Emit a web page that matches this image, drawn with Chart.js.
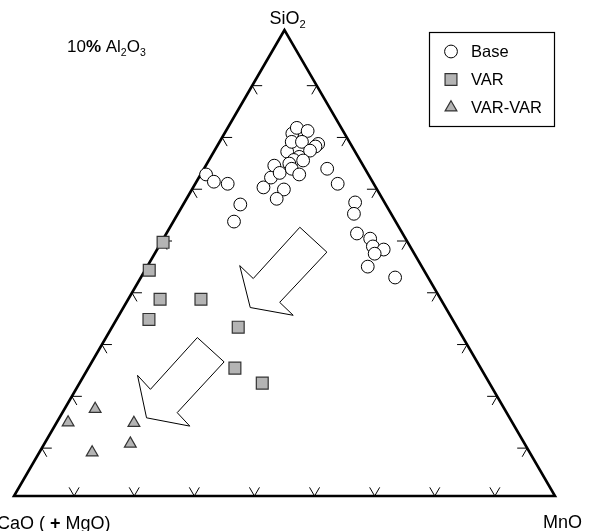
<!DOCTYPE html>
<html>
<head>
<meta charset="utf-8">
<script src="https://cdn.jsdelivr.net/npm/chart.js@4.4.1/dist/chart.umd.min.js"></script>
<style>
  html, body { margin: 0; padding: 0; background: #fff; }
</style>
</head>
<body>
<canvas id="ternary" width="595" height="531"></canvas>
<script>
// compositions in wt% on a 90 % basis (10 % Al2O3 fixed)
const TOTAL = 90;
const tickValues = [10, 20, 30, 40, 50, 60, 70, 80];

const baseSiO2 = [62.1, 60.7, 60.3, 56.3, 53.0, 59.6, 61.5, 63.8, 62.4, 59.2, 57.4, 66.5, 70.0, 71.1, 70.5, 68.4, 68.4, 68.0, 67.5, 66.7, 65.5, 64.9, 64.8, 64.2, 63.2, 62.1, 63.2, 60.3, 56.7, 54.5, 50.7, 49.7, 48.2, 47.6, 46.8, 44.3, 42.2];
const baseMnO  = [0.9, 2.9, 5.4, 9.5, 10.1, 11.7, 12.0, 11.4, 13.0, 15.3, 15.0, 12.2, 11.3, 11.5, 13.6, 12.0, 13.7, 16.6, 16.4, 15.9, 14.7, 14.1, 15.7, 13.7, 14.6, 16.4, 20.5, 23.7, 28.4, 29.3, 31.7, 34.4, 35.6, 37.7, 36.6, 36.7, 42.3];
const baseCaO  = [27.0, 26.4, 24.3, 24.2, 26.9, 18.7, 16.5, 14.8, 14.6, 15.5, 17.6, 11.3, 8.7, 7.4, 5.9, 9.6, 7.9, 5.4, 6.1, 7.4, 9.8, 11.0, 9.5, 12.1, 12.2, 11.5, 6.3, 6.0, 4.9, 6.2, 7.6, 5.9, 6.2, 4.7, 6.6, 9.0, 5.5];

const varSiO2 = [49.0, 43.6, 38.0, 38.0, 34.1, 32.6, 24.7, 21.8];
const varMnO  = [0.3, 0.7, 5.3, 12.1, 5.4, 21.0, 24.4, 30.4];
const varCaO  = [40.7, 45.7, 46.7, 39.9, 50.5, 36.4, 40.9, 37.8];

const varvarSiO2 = [16.8, 14.2, 14.1, 10.1, 8.4];
const varvarMnO  = [5.1, 1.9, 12.9, 14.3, 8.8];
const varvarCaO  = [68.1, 73.9, 63.0, 65.6, 72.8];

// hollow trend arrows, corners as (SiO2, MnO), CaO is the rest
const arrow1SiO2 = [51.9, 47.1, 37.4, 34.9, 36.4, 44.5, 42.0];
const arrow1MnO  = [21.6, 28.5, 25.5, 29.0, 21.1, 15.3, 18.8];
const arrow2SiO2 = [30.6, 25.9, 16.1, 13.5, 15.1, 23.3, 20.6];
const arrow2MnO  = [15.2, 22.0, 19.1, 22.5, 14.5, 8.9, 12.4];

const FONT = "'Liberation Sans', Arial, sans-serif";
const GREY = "#b4b4b4";

/* ternary -> cartesian (0..1 each way) */
function toXY(si, mn, ca) {
    const s = si + mn + ca;
    return { x: (mn + si / 2) / s, y: si / s };
}

function seriesPoints(si, mn, ca) {
    return si.map((v, i) => toXY(v, mn[i], ca[i]));
}

function px(chart, si, mn) {
    const p = toXY(si, mn, TOTAL - si - mn);
    return [chart.scales.x.getPixelForValue(p.x), chart.scales.y.getPixelForValue(p.y)];
}

function drawRuns(ctx, runs, x, y, size, align) {
    const widths = runs.map(r => {
        ctx.font = (r.b ? "bold " : "") + (r.sub ? size * 0.62 : size) + "px " + FONT;
        return ctx.measureText(r.t).width;
    });
    const total = widths.reduce((a, b) => a + b, 0);
    if (align === "center") x -= total / 2;
    runs.forEach((r, i) => {
        ctx.font = (r.b ? "bold " : "") + (r.sub ? size * 0.62 : size) + "px " + FONT;
        ctx.fillText(r.t, x, y + (r.sub ? size * 0.22 : 0));
        x += widths[i];
    });
}

/* =========================
   TRIANGLE, TICKS, ARROWS
========================= */
const ternaryFrame = {
    id: "ternaryFrame",
    beforeDatasetsDraw(chart) {
        const ctx = chart.ctx;
        const top = px(chart, TOTAL, 0);
        const left = px(chart, 0, 0);
        const right = px(chart, 0, TOTAL);

        ctx.save();
        ctx.strokeStyle = "#000";
        ctx.lineWidth = 2.6;
        ctx.lineJoin = "miter";
        ctx.beginPath();
        ctx.moveTo(top[0], top[1]);
        ctx.lineTo(left[0], left[1]);
        ctx.lineTo(right[0], right[1]);
        ctx.closePath();
        ctx.stroke();

        // tick arrows
        const dir = (a, b) => {
            const dx = b[0] - a[0], dy = b[1] - a[1];
            const l = Math.hypot(dx, dy);
            return [dx / l, dy / l];
        };
        const len = 10;
        const slide = 4.5; // side ticks sit a little lower on the edge
        const arm = (p, d) => {
            ctx.moveTo(p[0], p[1]);
            ctx.lineTo(p[0] + d[0] * len, p[1] + d[1] * len);
        };
        const shift = (p, d) => [p[0] + d[0] * slide, p[1] + d[1] * slide];
        ctx.lineWidth = 1;
        ctx.beginPath();
        tickValues.forEach(v => {
            const b = px(chart, 0, v);
            arm(b, dir(right, top));
            arm(b, dir(left, top));
            const l = shift(px(chart, v, 0), dir(top, left));
            arm(l, dir(left, right));
            arm(l, dir(top, right));
            const r = shift(px(chart, v, TOTAL - v), dir(top, right));
            arm(r, dir(right, left));
            arm(r, dir(top, left));
        });
        ctx.stroke();

        // hollow arrows
        [[arrow1SiO2, arrow1MnO], [arrow2SiO2, arrow2MnO]].forEach(([si, mn]) => {
            ctx.beginPath();
            si.forEach((v, i) => {
                const p = px(chart, v, mn[i]);
                if (i === 0) ctx.moveTo(p[0], p[1]); else ctx.lineTo(p[0], p[1]);
            });
            ctx.closePath();
            ctx.fillStyle = "#fff";
            ctx.fill();
            ctx.stroke();
        });
        ctx.restore();
    },

    afterDraw(chart) {
        const ctx = chart.ctx;
        const top = px(chart, TOTAL, 0);
        const left = px(chart, 0, 0);
        const right = px(chart, 0, TOTAL);
        const area = chart.chartArea;

        ctx.save();
        ctx.fillStyle = "#000";
        ctx.textBaseline = "alphabetic";

        drawRuns(ctx, [{ t: "SiO" }, { t: "2", sub: true }], top[0] + 3, top[1] - 6, 18, "center");
        drawRuns(ctx, [{ t: "CaO ( " }, { t: "+", b: true }, { t: " MgO)" }], left[0] - 17, 529, 18);
        drawRuns(ctx, [{ t: "MnO" }], right[0] - 12, 528, 18);
        drawRuns(ctx, [{ t: "10" }, { t: "%", b: true }, { t: " Al" }, { t: "2", sub: true },
                       { t: "O" }, { t: "3", sub: true }], 67, 52, 17);

        // legend
        const bx = area.right - 125.5, by = area.top + 2.5, bw = 125, bh = 94;
        ctx.lineWidth = 1.2;
        ctx.strokeStyle = "#000";
        ctx.strokeRect(bx, by, bw, bh);
        ctx.font = "16.5px " + FONT;
        ctx.textBaseline = "middle";
        chart.data.datasets.forEach((ds, i) => {
            const y = by + 19 + i * 28;
            const x = bx + 21.5;
            ctx.fillStyle = ds.backgroundColor;
            ctx.strokeStyle = ds.borderColor;
            ctx.lineWidth = ds.borderWidth;
            Chart.helpers.drawPoint(ctx, {
                pointStyle: ds.pointStyle,
                radius: ds.pointRadius,
                rotation: 0,
                borderWidth: ds.borderWidth
            }, x, y);
            ctx.fillStyle = "#000";
            ctx.fillText(ds.label, bx + 41.5, y + 1);
        });
        ctx.restore();
    }
};

new Chart(document.getElementById("ternary"), {
    type: "scatter",
    data: {
        datasets: [
            {
                label: "Base",
                data: seriesPoints(baseSiO2, baseMnO, baseCaO),
                pointStyle: "circle",
                pointRadius: 6.4,
                backgroundColor: "#fff",
                borderColor: "#000",
                borderWidth: 1,
                clip: false
            },
            {
                label: "VAR",
                data: seriesPoints(varSiO2, varMnO, varCaO),
                pointStyle: "rect",
                pointRadius: 8.4,
                backgroundColor: GREY,
                borderColor: "#333",
                borderWidth: 1.2,
                clip: false
            },
            {
                label: "VAR-VAR",
                data: seriesPoints(varvarSiO2, varvarMnO, varvarCaO),
                pointStyle: "triangle",
                pointRadius: 6.8,
                backgroundColor: GREY,
                borderColor: "#333",
                borderWidth: 1.2,
                clip: false
            }
        ]
    },
    options: {
        responsive: false,
        animation: false,
        devicePixelRatio: 1,
        layout: { padding: { left: 14, right: 40, top: 30, bottom: 35 } },
        scales: {
            x: { type: "linear", min: 0, max: 1, display: false },
            y: { type: "linear", min: 0, max: 1, display: false }
        },
        plugins: {
            legend: { display: false },
            tooltip: { enabled: false }
        }
    },
    plugins: [ternaryFrame]
});
</script>
</body>
</html>
